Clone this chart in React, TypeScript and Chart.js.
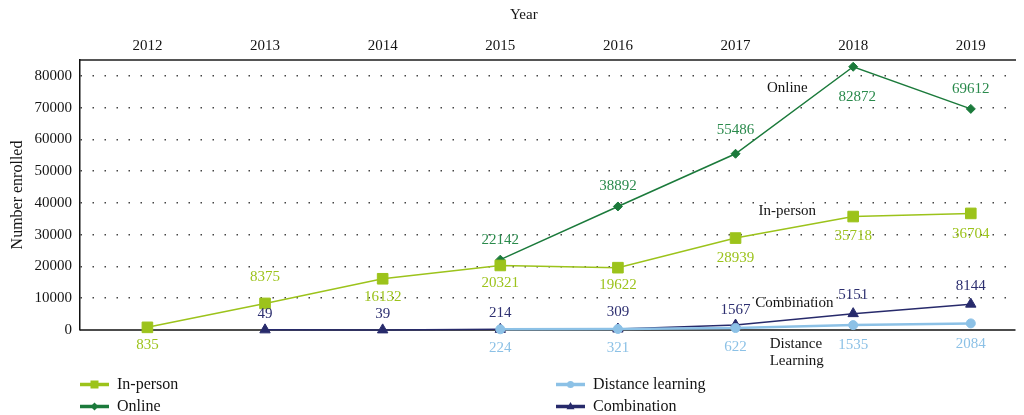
import React, { useEffect, useRef } from "react";
import { Chart, registerables } from "chart.js";

Chart.register(...registerables);

const years = [2012, 2013, 2014, 2015, 2016, 2017, 2018, 2019];
const inPerson = [835, 8375, 16132, 20321, 19622, 28939, 35718, 36704];
const online = [null, null, null, 22142, 38892, 55486, 82872, 69612];
const distanceLearning = [null, null, null, 224, 321, 622, 1535, 2084];
const combination = [null, 49, 39, 214, 309, 1567, 5151, 8144];
const yTickValues = [0, 10000, 20000, 30000, 40000, 50000, 60000, 70000, 80000];

const FONT = '"Liberation Serif", "DejaVu Serif", serif';
const TEXT = "#141414";

const series = [
  {
    label: "In-person",
    data: inPerson,
    color: "#9cc31b",
    labelColor: "#9cc31b",
    pointStyle: "rect",
    radius: 7.5,
    lineWidth: 1.5,
    legendCol: 0,
    legendRow: 0,
    labelDy: [18, -26, 18, 18, 17, 20, 20, 21],
    labelDx: [0, 0, 0, 0, 0, 0, 0, 0],
  },
  {
    label: "Online",
    data: online,
    color: "#1b7a3b",
    labelColor: "#2a8a4c",
    pointStyle: "rectRot",
    radius: 4.5,
    lineWidth: 1.5,
    legendCol: 0,
    legendRow: 1,
    labelDy: [0, 0, 0, -20, -20, -24, 30, -20],
    labelDx: [0, 0, 0, 0, 0, 0, 4, 0],
  },
  {
    label: "Distance learning",
    data: distanceLearning,
    color: "#8cc1e6",
    labelColor: "#8cc1e6",
    pointStyle: "circle",
    radius: 4.5,
    lineWidth: 2.5,
    legendCol: 1,
    legendRow: 0,
    labelDy: [0, 0, 0, 19, 19, 19, 20, 21],
    labelDx: [0, 0, 0, 0, 0, 0, 0, 0],
  },
  {
    label: "Combination",
    data: combination,
    color: "#272a6b",
    labelColor: "#2d2f70",
    pointStyle: "triangle",
    radius: 6,
    lineWidth: 1.5,
    legendCol: 1,
    legendRow: 1,
    labelDy: [0, -16, -16, -16, -17, -15, -19, -18],
    labelDx: [0, 0, 0, 0, 0, 0, 0, 0],
  },
];

const annotations = [
  { text: "Online", x: 2017.44, y: 76200, align: "center" },
  { text: "In-person", x: 2017.44, y: 37600, align: "center" },
  { text: "Combination", x: 2017.5, y: 8500, align: "center" },
  { text: "Distance", x: 2017.29, y: -4400, align: "left" },
  { text: "Learning", x: 2017.29, y: -9800, align: "left" },
];

const xTitle = { text: "Year", x: 2015.2 };

function drawMarker(ctx: CanvasRenderingContext2D, style: string, x: number, y: number, r: number) {
  ctx.beginPath();
  if (style === "rect") {
    ctx.rect(x - r, y - r, 2 * r, 2 * r);
  } else if (style === "rectRot") {
    ctx.moveTo(x, y - r);
    ctx.lineTo(x + r, y);
    ctx.lineTo(x, y + r);
    ctx.lineTo(x - r, y);
    ctx.closePath();
  } else if (style === "circle") {
    ctx.arc(x, y, r, 0, Math.PI * 2);
  } else {
    ctx.moveTo(x, y - r * 1.1);
    ctx.lineTo(x + r, y + r * 0.7);
    ctx.lineTo(x - r, y + r * 0.7);
    ctx.closePath();
  }
  ctx.fill();
}

const overlayPlugin = {
  id: "overlay",
  beforeDatasetsDraw(chart: any) {
    const { ctx, chartArea } = chart;
    const y0 = chart.scales.y.getPixelForValue(0);
    ctx.save();
    ctx.strokeStyle = "#111";
    ctx.lineWidth = 1.5;
    ctx.beginPath();
    ctx.moveTo(chartArea.left, y0);
    ctx.lineTo(chartArea.right, y0);
    ctx.stroke();
    ctx.restore();
  },
  afterDatasetsDraw(chart: any) {
    const { ctx, chartArea } = chart;
    const xs = chart.scales.x;
    const ys = chart.scales.y;
    ctx.save();
    ctx.font = `15px ${FONT}`;
    ctx.textBaseline = "middle";
    // x axis title
    ctx.fillStyle = TEXT;
    ctx.textAlign = "center";
    ctx.fillText(xTitle.text, xs.getPixelForValue(xTitle.x), xs.top + 15);
    // data labels
    series.forEach((s, i) => {
      const meta = chart.getDatasetMeta(i);
      ctx.fillStyle = s.labelColor;
      ctx.textAlign = "center";
      s.data.forEach((v, j) => {
        if (v === null) return;
        const el = meta.data[j];
        if (!el) return;
        ctx.fillText(String(v), el.x + s.labelDx[j], el.y + s.labelDy[j]);
      });
    });
    // annotations
    ctx.fillStyle = TEXT;
    annotations.forEach((a) => {
      ctx.textAlign = a.align as CanvasTextAlign;
      ctx.fillText(a.text, xs.getPixelForValue(a.x), ys.getPixelForValue(a.y));
    });
    // legend
    ctx.font = `16px ${FONT}`;
    const colX = [chartArea.left, chartArea.left + 476];
    const rowY = [chartArea.bottom + 54.5, chartArea.bottom + 76.5];
    series.forEach((s) => {
      const x0 = colX[s.legendCol];
      const y = rowY[s.legendRow];
      ctx.strokeStyle = s.color;
      ctx.lineWidth = 3.5;
      ctx.beginPath();
      ctx.moveTo(x0, y);
      ctx.lineTo(x0 + 29, y);
      ctx.stroke();
      ctx.fillStyle = s.color;
      const mr = s.pointStyle === "rect" ? 4 : s.pointStyle === "circle" ? 3.5 : 4;
      drawMarker(ctx, s.pointStyle, x0 + 14.5, y, mr);
      ctx.fillStyle = TEXT;
      ctx.textAlign = "left";
      ctx.fillText(s.label, x0 + 37, y);
    });
    ctx.restore();
  },
};

export default function App() {
  const canvasRef = useRef<HTMLCanvasElement | null>(null);

  useEffect(() => {
    if (!canvasRef.current) return;
    const chart = new Chart(canvasRef.current, {
      type: "line",
      data: {
        datasets: series.map((s) => ({
          label: s.label,
          data: years.map((yr, i) => ({ x: yr, y: s.data[i] })),
          borderColor: s.color,
          backgroundColor: s.color,
          borderWidth: s.lineWidth,
          pointStyle: s.pointStyle as any,
          pointRadius: s.radius,
          pointHoverRadius: s.radius,
          pointBackgroundColor: s.color,
          pointBorderColor: s.color,
          pointBorderWidth: 1,
          tension: 0,
          fill: false,
          clip: false as any,
        })),
      },
      options: {
        responsive: false,
        animation: false,
        devicePixelRatio: 1,
        layout: { padding: { left: 0, right: 0, top: 0, bottom: 85 } },
        plugins: {
          legend: { display: false },
          tooltip: { enabled: false },
        },
        scales: {
          x: {
            type: "linear",
            position: "top",
            min: 2011.427,
            max: 2019.38,
            afterFit: (s: any) => {
              s.height = 60;
            },
            ticks: {
              stepSize: 1,
              includeBounds: false,
              autoSkip: false,
              maxRotation: 0,
              padding: 5,
              color: TEXT,
              font: { family: FONT, size: 15 },
              callback: (v: any) => String(v),
            },
            grid: { display: false, drawTicks: false },
            border: { display: true, color: "#555", width: 2 },
            title: { display: false },
          },
          y: {
            type: "linear",
            min: 0,
            max: 85000,
            afterFit: (s: any) => {
              s.width = 80;
            },
            afterBuildTicks: (s: any) => {
              s.ticks = yTickValues.map((v) => ({ value: v }));
            },
            ticks: {
              padding: 8,
              color: TEXT,
              font: { family: FONT, size: 15 },
              callback: (v: any) => String(v),
            },
            grid: {
              drawTicks: false,
              lineWidth: 1.5,
              color: (c: any) => (c.tick && c.tick.value === 0 ? "rgba(0,0,0,0)" : "#444"),
            },
            border: { display: true, color: "#111", width: 1.5, dash: [1.5, 10.5] },
            title: {
              display: true,
              text: "Number enrolled",
              color: TEXT,
              font: { family: FONT, size: 16 },
              padding: { top: 8, bottom: 0 },
            },
          },
        },
      },
      plugins: [overlayPlugin],
    } as any);
    return () => chart.destroy();
  }, []);

  return (
    <div style={{ position: "absolute", left: 0, top: 0, width: 1024, height: 415 }}>
      <canvas ref={canvasRef} width={1024} height={415} style={{ display: "block" }} />
    </div>
  );
}
